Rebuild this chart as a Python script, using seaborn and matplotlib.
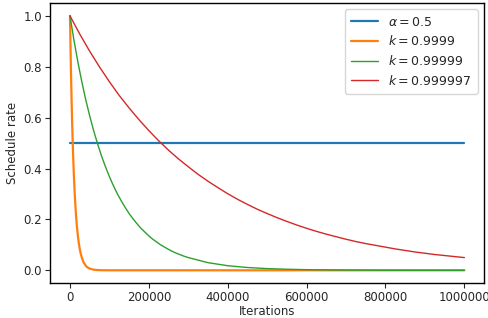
import numpy as np
import pandas as pd
import seaborn as sns
import matplotlib
matplotlib.use("Agg")
import matplotlib.pyplot as plt

# values
alpha_x = [0, 1000000]
alpha_y = [0.5, 0.5]

k1_x = [0, 2500, 5000, 7500, 10000, 12500, 15000, 17500, 20000, 22500, 25000,
        27500, 30000, 32500, 35000, 37500, 40000, 42500, 45000, 47500, 50000,
        60000, 70000, 80000, 100000, 1000000]
k1_y = [1.0, 0.779, 0.607, 0.472, 0.368, 0.287, 0.223, 0.174, 0.135, 0.105, 0.082,
        0.064, 0.050, 0.039, 0.030, 0.024, 0.018, 0.014, 0.011, 0.0087, 0.0067,
        0.0025, 0.0009, 0.0003, 0.0, 0.0]

k2_x = [0, 10000, 20000, 30000, 40000, 50000, 60000, 70000, 80000, 90000,
        100000, 110000, 120000, 130000, 140000, 150000, 160000, 170000, 180000,
        190000, 200000, 210000, 220000, 230000, 240000, 250000, 260000, 270000,
        280000, 290000, 300000, 350000, 400000, 450000, 500000, 550000, 600000,
        700000, 800000, 1000000]
k2_y = [1.0, 0.905, 0.819, 0.741, 0.670, 0.607, 0.549, 0.497, 0.449, 0.407,
        0.368, 0.333, 0.301, 0.273, 0.247, 0.223, 0.202, 0.183, 0.165,
        0.150, 0.135, 0.122, 0.111, 0.100, 0.091, 0.082, 0.074, 0.067,
        0.061, 0.055, 0.050, 0.030, 0.018, 0.011, 0.0067, 0.0041, 0.0025,
        0.0009, 0.0003, 0.0]

k3_x = [0, 25000, 50000, 75000, 100000, 125000, 150000, 175000, 200000, 225000,
        250000, 275000, 300000, 325000, 350000, 375000, 400000, 425000, 450000,
        475000, 500000, 525000, 550000, 575000, 600000, 625000, 650000, 675000,
        700000, 725000, 750000, 775000, 800000, 825000, 850000, 875000, 900000,
        925000, 950000, 975000, 1000000]
k3_y = [1.0, 0.928, 0.861, 0.799, 0.741, 0.687, 0.638, 0.592, 0.549, 0.509,
        0.472, 0.438, 0.407, 0.377, 0.350, 0.325, 0.301, 0.279, 0.259,
        0.240, 0.223, 0.207, 0.192, 0.178, 0.165, 0.153, 0.142, 0.132,
        0.122, 0.113, 0.105, 0.098, 0.091, 0.084, 0.078, 0.072, 0.067,
        0.062, 0.058, 0.054, 0.050]

labels = [r"$\alpha = 0.5$", r"$k = 0.9999$", r"$k = 0.99999$", r"$k = 0.999997$"]
colors = ["tab:blue", "tab:orange", "tab:green", "tab:red"]
widths = [1.6, 1.6, 1, 1]

sns.set_style("white")
plt.rcParams["font.family"] = ["DejaVu Sans"]

fig = plt.figure(figsize=(4.88, 3.18), dpi=100)
ax = fig.add_axes([0.103, 0.11, 0.889, 0.88])

series = [(alpha_x, alpha_y), (k1_x, k1_y), (k2_x, k2_y), (k3_x, k3_y)]
for (xs, ys), lab, c, w in zip(series, labels, colors, widths):
    sns.lineplot(x=xs, y=ys, ax=ax, label=lab, color=c, linewidth=w)

ax.set_xlim(-50000, 1050000)
ax.set_ylim(-0.05, 1.05)
ax.set_xticks([0, 200000, 400000, 600000, 800000, 1000000])
ax.set_xticklabels(["0", "200000", "400000", "600000", "800000", "1000000"])
ax.set_yticks([0.0, 0.2, 0.4, 0.6, 0.8, 1.0])
ax.tick_params(labelsize=8.5, length=3.5, direction="out", bottom=True, left=True, pad=2.5)
ax.set_xlabel("Iterations", fontsize=8.5, labelpad=0.5)
ax.set_ylabel("Schedule rate", fontsize=8.5, labelpad=3)
for s in ax.spines.values():
    s.set_color("black")
    s.set_linewidth(1)
ax.legend(loc="upper right", fontsize=9, frameon=True, handlelength=2.2,
          borderpad=0.5, labelspacing=0.45)

fig.savefig("out.png", dpi=100)
